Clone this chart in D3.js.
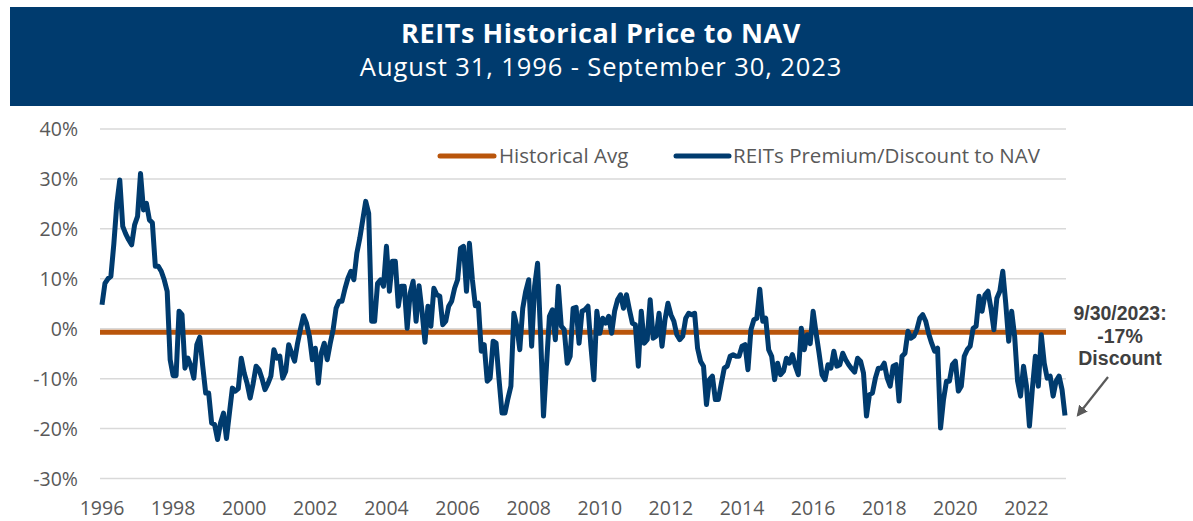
<!DOCTYPE html>
<html><head><meta charset="utf-8">
<script src="https://cdn.jsdelivr.net/npm/d3@7"></script>
<style>body{margin:0;background:#fff;}svg{display:block;}</style>
</head><body>
<svg id="chart" width="1193" height="521"></svg>
<script>
// ---- data (monthly, Aug 1996 .. Sep 2023) ----
const startMonth = "1996-08";
const endMonth = "2023-09";
const premium = [
 4.8, 9.1, 10.0, 10.5, 17, 25, 29.8, 20.5, 19, 17.8, 16.8, 20.8,
 22.5, 31.1, 23.8, 25.1, 21.8, 21.2, 12.5, 12.5, 11.5, 9.8, 7.5, -6.2,
 -9.4, -9.4, 3.5, 2.8, -7.9, -5.9, -7.5, -9.9, -3.2, -1.7, -7.5, -12.9,
 -12.9, -18.9, -19.2, -22.2, -18.9, -16.9, -22.0, -16.9, -11.9, -12.5, -12.0, -5.9,
 -8.9, -11, -13.9, -11, -7.5, -8.2, -10, -12.2, -11, -9.5, -4.2, -5.9,
 -5.5, -9.9, -8.5, -3.2, -4.9, -6.5, -2.9, 0, 2.6, 1.1, -1.5, -6.2,
 -3.9, -10.9, -4.9, -2.9, -6.2, -3, -0.2, 4.1, 5.5, 5.5, 8, 10.1,
 11.5, 9.8, 15.1, 18.1, 21.8, 25.5, 23.1, 1.5, 1.5, 9.1, 9.8, 8.5,
 16.5, 7.5, 13.5, 13.5, 4.5, 8.5, 8.5, 0.1, 7.1, 9.5, 1.5, 8.6,
 3.5, -2.7, 4.5, 0.5, 8.1, 6.8, 6.5, 0.8, 1.5, 4.5, 5.5, 8.1,
 9.8, 16.1, 16.5, 7.5, 17.1, 9.8, 4.6, 5.1, -4.5, -3.2, -10.5, -9.9,
 -2.5, -2.9, -10.2, -16.9, -16.9, -14, -11.5, 3.1, 0.5, -4.2, 4.1, 7.5,
 9.8, -3.5, 8.5, 13.1, -0.9, -17.5, -7.5, 2.5, 3.8, -2.2, 8.5, 0.5,
 -0.2, -6.9, -5.5, 4.1, 4.3, -2.9, 3.5, 3.8, 4.5, -3.5, -10.2, 3.5,
 -0.9, 2.1, 1.1, 2.5, -0.9, 3.5, 5.8, 6.8, 4.1, 6.8, 3.8, 1.1,
 0.8, -7.5, 3.5, -2.9, -2.2, 5.8, -1.9, -1.5, 3.1, -3.5, 1.8, 5.1,
 2.8, 1.5, -1.2, -2.2, -1.5, 2.1, 3.1, 2.8, 3.1, -3.9, -6.5, -7.5,
 -15.2, -10.2, -9.5, -14.2, -14.2, -11, -7.9, -7.5, -5.5, -5.2, -5.5, -5.5,
 -3.5, -3.2, -8.2, -0.2, 1.8, 2.1, 7.9, 1.5, 2.1, -4.2, -5.5, -10.2,
 -6.9, -9.2, -8.5, -5.9, -6.9, -5.2, -7.5, -9.2, 0.1, -4.2, -1.2, -3.0,
 3.5, -0.9, -4.9, -9.2, -10.2, -7.2, -7.9, -4.5, -7.5, -7.2, -4.9, -6.2,
 -7.2, -8.0, -8.7, -5.9, -6.5, -8.9, -17.5, -13.2, -12.9, -9.9, -7.9, -7.9,
 -6.9, -9.9, -11.5, -7.5, -7.2, -14.5, -5.5, -4.9, -0.5, -1.9, -1.5, -0.2,
 2.1, 2.8, 1.5, -1.0, -2.9, -4.5, -3.9, -19.9, -14.2, -10.5, -10.5, -7.2,
 -6.5, -12.5, -11.5, -5.5, -4.2, -3.5, 0.1, 0.5, 6.5, 3.5, 6.8, 7.5,
 4.1, -0.2, 6.1, 7.5, 11.5, 5.1, -2.5, 3.5, -1.5, -10.5, -13.5, -7.5,
 -11.5, -19.5, -11.9, -5.5, -11.5, -1.2, -6.9, -9.9, -9.5, -13.5, -10.5, -9.5,
 -12.2, -17.4
];
const historicalAvg = -0.7;
const xTickLabels = ["1996","1998","2000","2002","2004","2006","2008","2010","2012","2014","2016","2018","2020","2022"];
const yTicks = [40, 30, 20, 10, 0, -10, -20, -30];
const seriesNames = ["Historical Avg", "REITs Premium/Discount to NAV"];
const titleText = "REITs Historical Price to NAV";
const subtitleText = "August 31, 1996 - September 30, 2023";
const annotationLines = ["9/30/2023:", "-17%", "Discount"];

// ---- drawing ----
const svg = d3.select("#chart");
const NAVY = "#003b6e", ORANGE = "#b9550b", GRID = "#d9d9d9", TXT = "#595959";
const FONT = "Open Sans, sans-serif";
const x = d3.scaleLinear().domain([0, premium.length - 1]).range([102, 1065]);
const y = d3.scaleLinear().domain([-30, 40]).range([478.5, 129]);
const plotL = 100, plotR = 1066;

// banner
svg.append("rect").attr("x", 10).attr("y", 7).attr("width", 1183).attr("height", 99).attr("fill", NAVY);
svg.append("text").attr("x", 601).attr("y", 43).attr("text-anchor", "middle")
  .attr("fill", "#fff").attr("font-family", FONT).attr("font-weight", 700)
  .attr("font-size", 27).attr("letter-spacing", 0.6).text(titleText);
svg.append("text").attr("x", 601).attr("y", 76).attr("text-anchor", "middle")
  .attr("fill", "#fff").attr("font-family", FONT).attr("font-weight", 400)
  .attr("font-size", 25.5).attr("letter-spacing", 0.9).text(subtitleText);

// gridlines + y labels
const yAxis = svg.append("g");
yTicks.forEach(t => {
  yAxis.append("line").attr("x1", plotL).attr("x2", plotR).attr("y1", y(t)).attr("y2", y(t))
    .attr("stroke", GRID).attr("stroke-width", 1.5);
  yAxis.append("text").attr("x", 78).attr("y", y(t) + 7).attr("text-anchor", "end")
    .attr("fill", TXT).attr("font-family", FONT).attr("font-size", 19.5)
    .text(t + "%");
});

// x labels
xTickLabels.forEach((lab, i) => {
  svg.append("text").attr("x", x(i * 24)).attr("y", 515).attr("text-anchor", "middle")
    .attr("fill", TXT).attr("font-family", FONT).attr("font-size", 19.5)
    .text(lab);
});

// historical average
svg.append("line").attr("x1", plotL).attr("x2", plotR)
  .attr("y1", y(historicalAvg)).attr("y2", y(historicalAvg))
  .attr("stroke", ORANGE).attr("stroke-width", 5);

// main series
const line = d3.line().x((d, i) => x(i)).y(d => y(d));
svg.append("path").datum(premium).attr("d", line).attr("fill", "none")
  .attr("stroke", NAVY).attr("stroke-width", 5).attr("stroke-linejoin", "round");

// legend
const lg = svg.append("g");
lg.append("line").attr("x1", 440).attr("x2", 494).attr("y1", 156).attr("y2", 156)
  .attr("stroke", ORANGE).attr("stroke-width", 5).attr("stroke-linecap", "round");
lg.append("text").attr("x", 499).attr("y", 163).attr("fill", TXT)
  .attr("font-family", FONT).attr("font-size", 20.5).text(seriesNames[0]);
lg.append("line").attr("x1", 676).attr("x2", 729).attr("y1", 156).attr("y2", 156)
  .attr("stroke", NAVY).attr("stroke-width", 5).attr("stroke-linecap", "round");
lg.append("text").attr("x", 733).attr("y", 163).attr("fill", TXT)
  .attr("font-family", FONT).attr("font-size", 20.5).text(seriesNames[1]);

// annotation
const an = svg.append("g");
annotationLines.forEach((t, i) => {
  an.append("text").attr("x", 1120).attr("y", 320 + i * 22.5).attr("text-anchor", "middle")
    .attr("fill", "#404040").attr("font-family", "Liberation Sans, Arial, sans-serif")
    .attr("font-weight", 700).attr("font-size", 19.5).text(t);
});
svg.append("defs").append("marker").attr("id", "arr").attr("viewBox", "0 0 10 10")
  .attr("refX", 8).attr("refY", 5).attr("markerWidth", 5).attr("markerHeight", 5)
  .attr("orient", "auto").append("path").attr("d", "M0,0 L10,5 L0,10 z").attr("fill", "#595959");
svg.append("line").attr("x1", 1108).attr("y1", 377).attr("x2", 1078).attr("y2", 415)
  .attr("stroke", "#595959").attr("stroke-width", 2.2).attr("marker-end", "url(#arr)");
</script>
</body></html>
